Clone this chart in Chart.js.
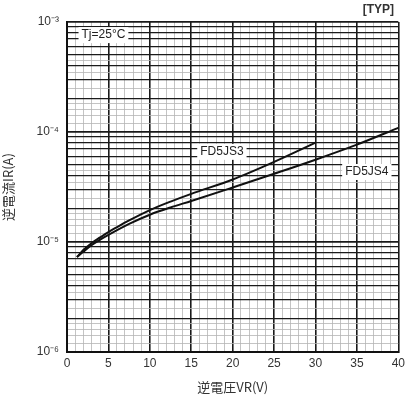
<!DOCTYPE html>
<html>
<head>
<meta charset="utf-8">
<script src="https://cdn.jsdelivr.net/npm/chart.js@4"></script>
<style>
  html, body { margin: 0; padding: 0; background: #fff; }
  #wrap { width: 409px; height: 397px; }
</style>
</head>
<body>
<div id="wrap"><canvas id="leakChart" width="409" height="397"></canvas></div>
<script>
// reverse voltage (V) vs reverse current (A)
const voltsJS3 = [1.2, 2, 3, 4, 5, 6, 7.5, 10, 12.5, 15, 20, 25, 30];
const currentJS3 = [7.3e-6, 8.5e-6, 9.8e-6, 1.1e-5, 1.23e-5, 1.36e-5, 1.57e-5, 1.95e-5, 2.33e-5, 2.74e-5, 3.7e-5, 5.35e-5, 8.0e-5];
const voltsJS4 = [1.2, 2, 3, 4, 5, 7.5, 10, 12.5, 15, 20, 25, 30, 35, 40];
const currentJS4 = [7.3e-6, 8.2e-6, 9.4e-6, 1.05e-5, 1.16e-5, 1.46e-5, 1.77e-5, 2.06e-5, 2.36e-5, 3.13e-5, 4.17e-5, 5.6e-5, 7.67e-5, 1.09e-4];
const seriesNames = ["FD5JS3", "FD5JS4"];
const decadeExps = [-6, -5, -4, -3];
const supers = { "-3": "⁻³", "-4": "⁻⁴", "-5": "⁻⁵", "-6": "⁻⁶" };

// label anchors in data coords
const notes = [
  { text: "FD5JS3", x: 18.7, y: 6.6e-5 },
  { text: "FD5JS4", x: 36.2, y: 4.33e-5 },
  { text: "Tj=25°C", x: 4.4, y: 7.6e-4 }
];

const mantissas = [1, 1.2, 1.4, 1.6, 1.8, 2, 2.5, 3, 3.5, 4, 4.5, 5, 6, 7, 8, 9];

function mant(v) {
  const e = Math.floor(Math.log10(v) + 1e-9);
  return v / Math.pow(10, e);
}
function isWhole(m) { return Math.abs(m - Math.round(m)) < 1e-6; }
function isDecade(v) {
  const l = Math.log10(v);
  return Math.abs(l - Math.round(l)) < 1e-6;
}

const notePlugin = {
  id: "notes",
  afterDatasetsDraw(chart) {
    const ctx = chart.ctx;
    const xs = chart.scales.x, ys = chart.scales.y;
    ctx.save();
    ctx.font = "12px 'Liberation Sans', Arial, sans-serif";
    ctx.textAlign = "center";
    ctx.textBaseline = "middle";
    notes.forEach(n => {
      const px = xs.getPixelForValue(n.x);
      const py = ys.getPixelForValue(n.y);
      const w = ctx.measureText(n.text).width + 6;
      ctx.fillStyle = "#fff";
      ctx.fillRect(px - w / 2, py - 8, w, 16);
      ctx.fillStyle = "#222";
      ctx.fillText(n.text, px, py);
    });
    ctx.font = "bold 12px 'Liberation Sans', Arial, sans-serif";
    ctx.fillStyle = "#333";
    ctx.fillText("[TYP]", chart.chartArea.right - 20, chart.chartArea.top - 12);
    ctx.restore();
  }
};

new Chart(document.getElementById("leakChart"), {
  type: "line",
  data: {
    datasets: [
      {
        label: seriesNames[0],
        data: voltsJS3.map((v, i) => ({ x: v, y: currentJS3[i] })),
        borderColor: "#111",
        borderWidth: 2,
        pointRadius: 0,
        cubicInterpolationMode: "monotone"
      },
      {
        label: seriesNames[1],
        data: voltsJS4.map((v, i) => ({ x: v, y: currentJS4[i] })),
        borderColor: "#111",
        borderWidth: 2,
        pointRadius: 0,
        cubicInterpolationMode: "monotone"
      }
    ]
  },
  options: {
    responsive: false,
    animation: false,
    layout: { padding: { top: 22, right: 7, left: 0, bottom: 0 } },
    plugins: { legend: { display: false }, tooltip: { enabled: false } },
    scales: {
      x: {
        type: "linear",
        min: 0,
        max: 40,
        afterBuildTicks: scale => {
          const t = [];
          for (let v = 0; v <= 40; v++) t.push({ value: v });
          scale.ticks = t;
        },
        afterFit: scale => { scale.height = 45; },
        ticks: {
          autoSkip: false,
          maxRotation: 0,
          padding: 4,
          color: "#333",
          font: { family: "'Liberation Sans', Arial, sans-serif", size: 12 },
          callback: v => (v % 5 === 0 ? String(v) : "")
        },
        grid: {
          drawTicks: false,
          color: c => (c.tick && c.tick.value % 5 === 0 ? "#1a1a1a" : "#b5b5b5"),
          lineWidth: c => (c.tick && c.tick.value % 5 === 0 ? 1.6 : 0.8)
        },
        border: { color: "#111", width: 2 },
        title: {
          display: true,
          text: "逆電圧VR(V)",
          color: "#333",
          padding: { top: 2, bottom: 2 },
          font: { family: "'Noto Sans CJK JP', sans-serif", size: 13 }
        }
      },
      y: {
        type: "logarithmic",
        min: 1e-6,
        max: 1e-3,
        afterBuildTicks: scale => {
          const t = [];
          decadeExps.forEach(e => {
            const base = Math.pow(10, e);
            if (e === -3) { t.push({ value: base }); return; }
            mantissas.forEach(m => t.push({ value: m * base }));
          });
          scale.ticks = t;
        },
        afterFit: scale => { scale.width = 67; },
        ticks: {
          autoSkip: false,
          padding: 8,
          color: "#333",
          font: { family: "'Liberation Sans', Arial, sans-serif", size: 12 },
          callback: v => {
            if (!isDecade(v)) return "";
            return "10" + supers[String(Math.round(Math.log10(v)))];
          }
        },
        grid: {
          drawTicks: false,
          color: c => (c.tick && isWhole(mant(c.tick.value)) ? "#1a1a1a" : "#b5b5b5"),
          lineWidth: c => {
            if (!c.tick) return 1;
            if (isDecade(c.tick.value)) return 1.8;
            return isWhole(mant(c.tick.value)) ? 1.3 : 0.8;
          }
        },
        border: { color: "#111", width: 2 },
        title: {
          display: true,
          text: "逆電流IR(A)",
          color: "#333",
          padding: { top: 0, bottom: 4 },
          font: { family: "'Noto Sans CJK JP', sans-serif", size: 13 }
        }
      }
    }
  },
  plugins: [notePlugin]
});
</script>
</body>
</html>
